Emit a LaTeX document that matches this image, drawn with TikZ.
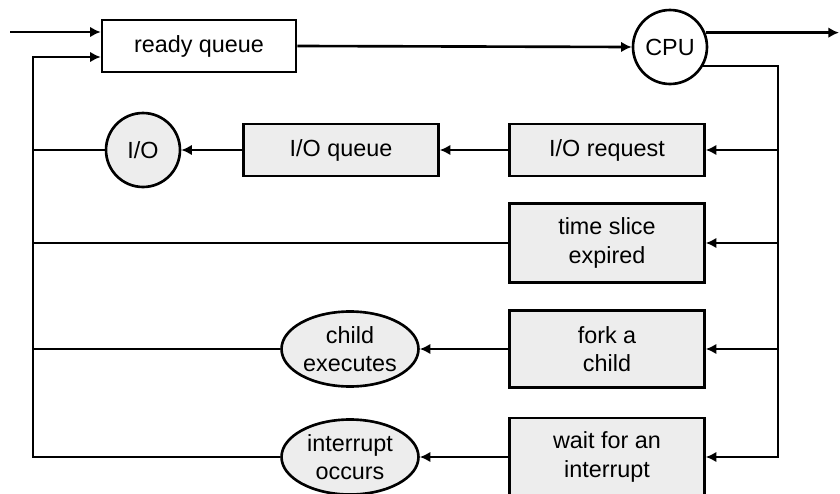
\documentclass[tikz,border=0pt]{standalone}
\usepackage{fontspec}
\setmainfont{Liberation Sans}
\usetikzlibrary{arrows.meta,shapes.geometric}
\tikzset{
  qbox/.style={draw, fill=black!7, minimum width=3.9cm, minimum height=1.04cm, align=center},
  qcirc/.style={draw, circle, fill=black!7, minimum size=1.48cm, inner sep=0pt},
  qoval/.style={draw, ellipse, fill=black!7, minimum width=2.74cm, minimum height=1.5cm, inner sep=0pt, align=center}
}
\begin{document}
\begin{tikzpicture} [x=0.02cm, y=-0.02cm, line width=1.5pt, >={Latex[length=6pt,width=6pt]}, font=\fontsize{13.3}{16}\selectfont]
	\useasboundingbox (0,0) rectangle (840,494);
	\clip (0,0) rectangle (840,494);
	\node [qbox, fill=white, minimum width=3.88cm] (ready) at (199,46) {ready queue};
	\node [qcirc, fill=white] (cpu) at (670,47) {CPU};
	\node [qbox] (ioreq) at (607,150) {I/O request};
	\node [qbox] (ioq) at (341,150) {I/O queue};
	\node [qcirc] (io) at (143,150) {I/O};
	\node [qbox, minimum height=1.58cm] (slice) at (607,243) {time slice\\expired};
	\node [qbox, minimum height=1.54cm] (fork) at (607,349) {fork a\\child};
	\node [qbox, minimum height=1.56cm] (wait) at (607,457) {wait for an\\interrupt};
	\node [qoval] (child) at (350,349) {child\\executes};
	\node [qoval] (intr) at (350,457) {interrupt\\occurs};
	\coordinate (in) at (10,32);
	\coordinate (out) at (839,33);
	\coordinate (fb) at (33,57);
	\coordinate (rt) at (778,66);
	\draw [->] (in) -- (in -| ready.west);
	\draw [->] (ready.east) -- (cpu.west);
	\draw [->] (cpu.22) -- (cpu.22 -| out);
	\draw [->] (cpu.-30) -| (rt |- wait.east) -- (wait.east);
	\draw [->] (ioreq.east -| rt) -- (ioreq.east);
	\draw [->] (slice.east -| rt) -- (slice.east);
	\draw [->] (fork.east -| rt) -- (fork.east);
	\draw [->] (ioreq) -- (ioq);
	\draw [->] (ioq) -- (io);
	\draw [->] (fork) -- (child);
	\draw [->] (wait) -- (intr);
	\draw [->] (intr.west) -| (fb) -- (fb -| ready.west);
	\draw (io.west) -- (io.west -| fb);
	\draw (slice.west) -- (slice.west -| fb);
	\draw (child.west) -- (child.west -| fb);
\end{tikzpicture}
\end{document}
